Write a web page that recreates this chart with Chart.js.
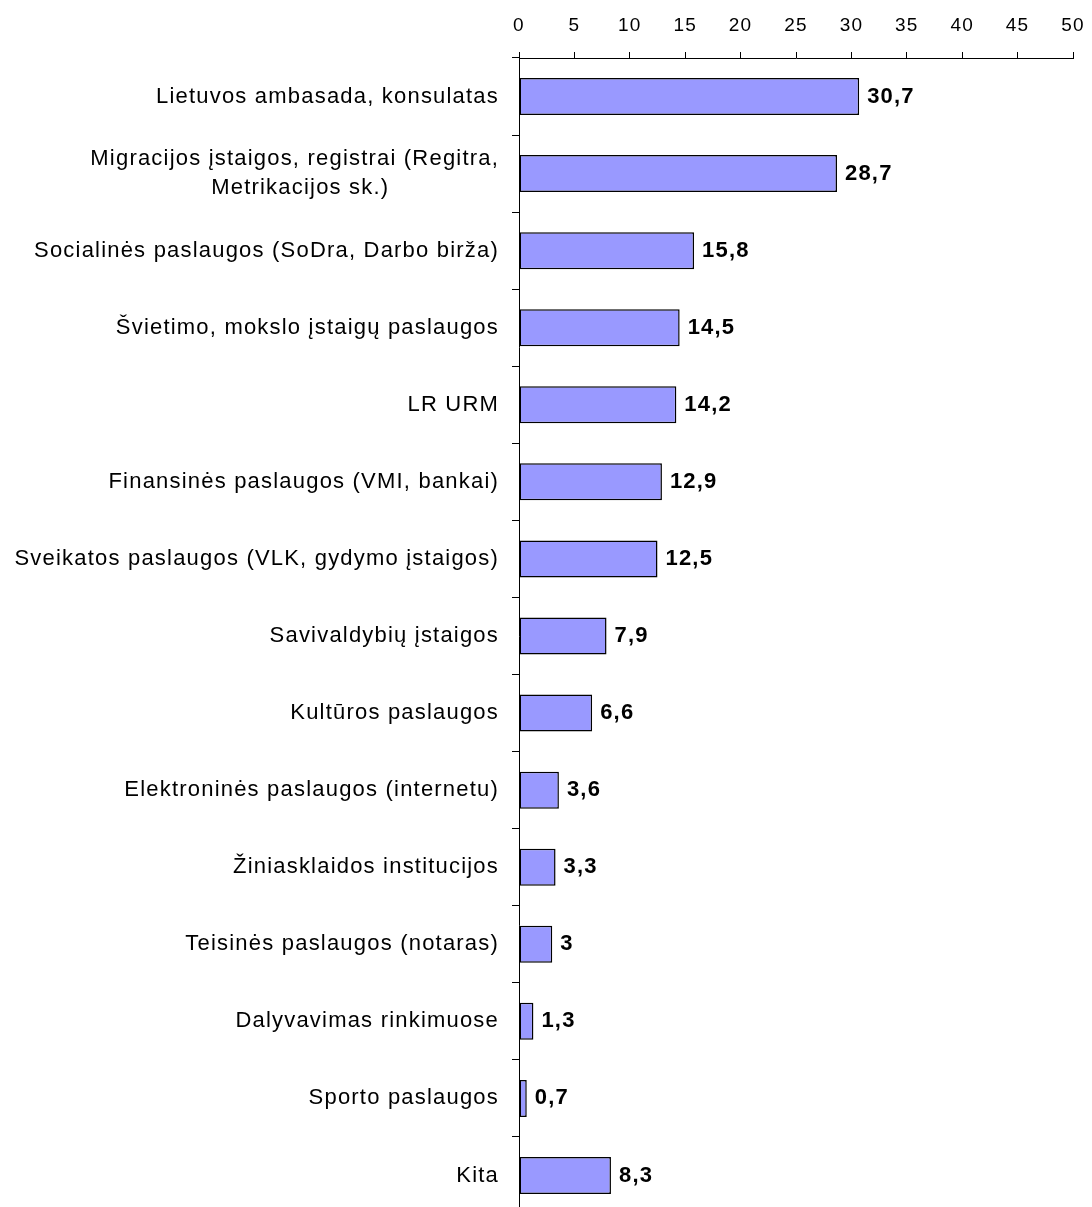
<!DOCTYPE html>
<html>
<head>
<meta charset="utf-8">
<script src="https://cdn.jsdelivr.net/npm/chart.js@4"></script>
<style>
  html, body { margin: 0; padding: 0; background: #fff; overflow: hidden; }
  canvas { display: block; }
</style>
</head>
<body>
<canvas id="chart" width="1092" height="1220"></canvas>
<script>
var categories = [
  "Lietuvos ambasada, konsulatas",
  ["Migracijos įstaigos, registrai (Regitra,", "Metrikacijos sk.)"],
  "Socialinės paslaugos (SoDra, Darbo birža)",
  "Švietimo, mokslo įstaigų paslaugos",
  "LR URM",
  "Finansinės paslaugos (VMI, bankai)",
  "Sveikatos paslaugos (VLK, gydymo įstaigos)",
  "Savivaldybių įstaigos",
  "Kultūros paslaugos",
  "Elektroninės paslaugos (internetu)",
  "Žiniasklaidos institucijos",
  "Teisinės paslaugos (notaras)",
  "Dalyvavimas rinkimuose",
  "Sporto paslaugos",
  "Kita"
];
var values = [30.7, 28.7, 15.8, 14.5, 14.2, 12.9, 12.5, 7.9, 6.6, 3.6, 3.3, 3, 1.3, 0.7, 8.3];
var xTicks = [0, 5, 10, 15, 20, 25, 30, 35, 40, 45, 50];

var FONT = "'Liberation Sans', Arial, sans-serif";
var SPACING = "1.2px";

// pad lines of a multi-line label with spaces so they look centred
var measureCtx = document.createElement("canvas").getContext("2d");
function centerLines(lines) {
  measureCtx.font = "22px " + FONT;
  measureCtx.letterSpacing = SPACING;
  var widths = lines.map(function (l) { return measureCtx.measureText(l).width; });
  var maxW = Math.max.apply(null, widths);
  return lines.map(function (l, i) {
    var target = widths[i] + (maxW - widths[i]) / 2;
    var s = l;
    while (measureCtx.measureText(s + " ").width <= target) s += " ";
    return s;
  });
}

var valueLabels = {
  id: "valueLabels",
  beforeDraw: function (chart) {
    chart.ctx.letterSpacing = SPACING;
  },
  afterDatasetsDraw: function (chart) {
    var ctx = chart.ctx;
    var meta = chart.getDatasetMeta(0);
    ctx.save();
    ctx.font = "bold 22px " + FONT;
    ctx.fillStyle = "#000";
    ctx.textAlign = "left";
    ctx.textBaseline = "middle";
    meta.data.forEach(function (bar, i) {
      ctx.fillText(String(values[i]).replace(".", ","), bar.x + 8, bar.y);
    });
    ctx.restore();
  }
};

new Chart(document.getElementById("chart"), {
  type: "bar",
  data: {
    labels: categories,
    datasets: [{
      data: values,
      backgroundColor: "#9999ff",
      borderColor: "#000000",
      borderWidth: 1.5,
      borderSkipped: false,
      barPercentage: 0.48,
      categoryPercentage: 1
    }]
  },
  options: {
    indexAxis: "y",
    responsive: false,
    animation: false,
    devicePixelRatio: 1,
    layout: { padding: { left: 0, right: 19, top: 0, bottom: 6 } },
    plugins: { legend: { display: false }, tooltip: { enabled: false } },
    scales: {
      x: {
        position: "top",
        min: 0,
        max: 50,
        afterBuildTicks: function (scale) {
          scale.ticks = xTicks.map(function (v) { return { value: v }; });
        },
        afterFit: function (scale) {
          scale.height = 58;
          scale.paddingLeft = 0;
          scale.paddingRight = 0;
        },
        grid: { drawOnChartArea: false, tickLength: 6, color: "#000", lineWidth: 1 },
        border: { display: true, color: "#000", width: 1 },
        ticks: { color: "#000", font: { family: FONT, size: 19 }, padding: 15, maxRotation: 0 }
      },
      y: {
        afterFit: function (scale) {
          scale.width = 519;
          scale.paddingTop = 0;
          scale.paddingBottom = 0;
        },
        grid: { drawOnChartArea: false, tickLength: 7, color: "#000", lineWidth: 1, offset: true },
        border: { display: true, color: "#000", width: 1 },
        ticks: {
          color: "#000",
          font: { family: FONT, size: 22, lineHeight: 1.34 },
          padding: 13,
          autoSkip: false,
          callback: function (value) {
            var l = this.getLabelForValue(value);
            return Array.isArray(l) ? centerLines(l) : l;
          }
        }
      }
    }
  },
  plugins: [valueLabels]
});
</script>
</body>
</html>
